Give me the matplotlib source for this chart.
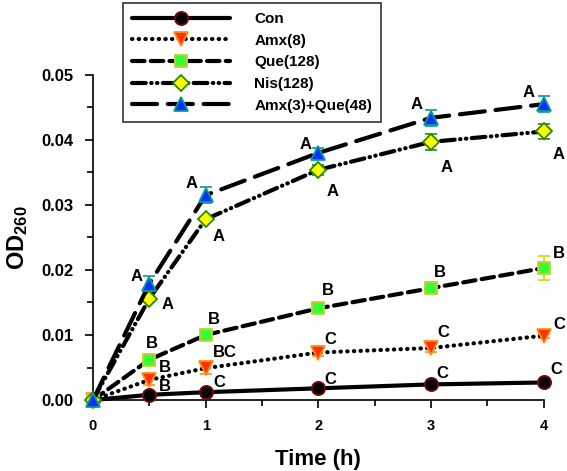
import numpy as np
import matplotlib
matplotlib.use("Agg")
from matplotlib import pyplot as plt

plt.rcParams['font.family'] = ['Liberation Sans', 'DejaVu Sans']
plt.rcParams['font.weight'] = 'bold'
plt.rcParams['mathtext.fontset'] = 'custom'
plt.rcParams['mathtext.rm'] = 'Liberation Sans:bold'
plt.rcParams['mathtext.it'] = 'Liberation Sans:bold'
plt.rcParams['mathtext.bf'] = 'Liberation Sans:bold'

time_h = [0, 0.5, 1, 2, 3, 4]
series_names = ['Con', 'Amx(8)', 'Que(128)', 'Nis(128)', 'Amx(3)+Que(48)']

con = [0, 0.0008, 0.0012, 0.0018, 0.0024, 0.0027]
amx = [0, 0.0031, 0.0049, 0.0073, 0.0080, 0.0099]
que = [0, 0.0062, 0.0100, 0.0141, 0.0172, 0.0203]
nis = [0, 0.0156, 0.0278, 0.0354, 0.0397, 0.0413]
amx_que = [0, 0.0179, 0.0315, 0.0380, 0.0434, 0.0455]

con_err = [0, 0.0002, 0.0002, 0.0002, 0.0002, 0.0002]
amx_err = [0, 0.0008, 0.0009, 0.0006, 0.0006, 0.0003]
que_err = [0, 0.0004, 0.0004, 0.0004, 0.0004, 0.0019]
nis_err = [0, 0.0005, 0.0003, 0.0008, 0.0012, 0.0012]
amx_que_err = [0, 0.0012, 0.0012, 0.0008, 0.0012, 0.0012]

con_letters = ['', 'B', 'C', 'C', 'C', 'C']
amx_letters = ['', 'B', 'BC', 'C', 'C', 'C']
que_letters = ['', 'B', 'B', 'B', 'B', 'B']
nis_letters = ['', 'A', 'A', 'A', 'A', 'A']
amx_que_letters = ['', 'A', 'A', 'A', 'A', 'A']

fig = plt.figure(figsize=(5.67, 4.71), dpi=100)
ax = fig.add_axes([0.164, 0.1507, 0.795, 0.6903])

styles = [
    dict(ls='-', marker='o', mfc='black', mec='#7a0a0a', ms=9.5, ecolor='#7a0a0a'),
    dict(ls=(0, (0.1, 1.5)), marker='v', mfc='#ff3300', mec='#ff8c1a', ms=10, ecolor='#ff8c1a'),
    dict(ls=(0, (3.0, 1.5)), marker='s', mfc='#33ff33', mec='#cccc33', ms=9, ecolor='#d4d400'),
    dict(ls=(0, (3.3, 1.3, 0.1, 1.3, 0.1, 1.3)), marker='D', mfc='#ffff00', mec='#2a8a00', ms=8, ecolor='#2a8a00'),
    dict(ls=(0, (6.0, 2.6)), marker='^', mfc='#0033ff', mec='#0a9a9a', ms=10, ecolor='#0a9a9a'),
]
values = [con, amx, que, nis, amx_que]
errors = [con_err, amx_err, que_err, nis_err, amx_que_err]
letters = [con_letters, amx_letters, que_letters, nis_letters, amx_que_letters]
offsets = [
    [(0, 0), (16, 8), (14, 10), (12, 9), (11, 11), (13, 13)],
    [(0, 0), (16, 12), (19, 16), (12, 13), (12, 15), (16, 11)],
    [(0, 0), (3, 16), (8, 15), (10, 18), (9, 16), (15, 15)],
    [(0, 0), (18, -6), (13, -17), (14, -22), (16, -26), (15, -23)],
    [(0, 0), (-13, 7), (-14, 12), (-13, 8), (-14, 13), (-15, 12)],
]

handles = []
for name, y, err, st in zip(series_names, values, errors, styles):
    ax.errorbar(time_h, y, yerr=err, fmt='none', ecolor=st['ecolor'],
                elinewidth=1.2, capsize=4, capthick=1.2, zorder=3, clip_on=False)
    line, = ax.plot(time_h, y, color='black', lw=3.0, ls=st['ls'],
                    dash_capstyle='round', solid_capstyle='round',
                    marker=st['marker'], mfc=st['mfc'], mec=st['mec'],
                    mew=1.3, ms=st['ms'], zorder=4, clip_on=False, label=name)
    handles.append(line)

for y, labs, offs in zip(values, letters, offsets):
    for xv, yv, lab, off in zip(time_h, y, labs, offs):
        if lab:
            ax.annotate(lab, (xv, yv), xytext=off, textcoords='offset pixels',
                        ha='center', va='center', fontsize=12, fontweight='bold',
                        annotation_clip=False, zorder=5)

ax.set_xlim(0, 4)
ax.set_ylim(0, 0.05)
ax.spines['top'].set_visible(False)
ax.spines['right'].set_visible(False)
ax.spines['left'].set_linewidth(1.2)
ax.spines['bottom'].set_linewidth(1.2)
ax.set_xticks([0, 1, 2, 3, 4])
ax.set_xticks([0.5, 1.5, 2.5, 3.5], minor=True)
ax.set_yticks([0.0, 0.01, 0.02, 0.03, 0.04, 0.05])
ax.set_yticklabels(['0.00', '0.01', '0.02', '0.03', '0.04', '0.05'])
ax.set_yticks([0.005, 0.015, 0.025, 0.035, 0.045], minor=True)
ax.tick_params(which='major', direction='out', length=6, width=1.2, labelsize=12, pad=8)
ax.tick_params(which='minor', direction='out', length=4, width=1.2)
ax.tick_params(axis='x', labelsize=10.5)
for t in ax.get_xticklabels() + ax.get_yticklabels():
    t.set_fontweight('bold')

ax.set_xlabel('Time (h)', fontsize=16, fontweight='bold', labelpad=11)
ax.set_ylabel('OD$_{260}$', fontsize=17, fontweight='bold', labelpad=8)

leg = fig.legend(handles=handles, loc='upper left', bbox_to_anchor=(0.217, 0.994),
                 frameon=True, fancybox=False, edgecolor='black', fontsize=11,
                 handlelength=6.4, handletextpad=1.6, labelspacing=0.5,
                 borderpad=0.6, borderaxespad=0, markerscale=1.0)
leg.get_frame().set_linewidth(1.2)
for t in leg.get_texts():
    t.set_fontweight('bold')

fig.savefig('out.png', dpi=100)
